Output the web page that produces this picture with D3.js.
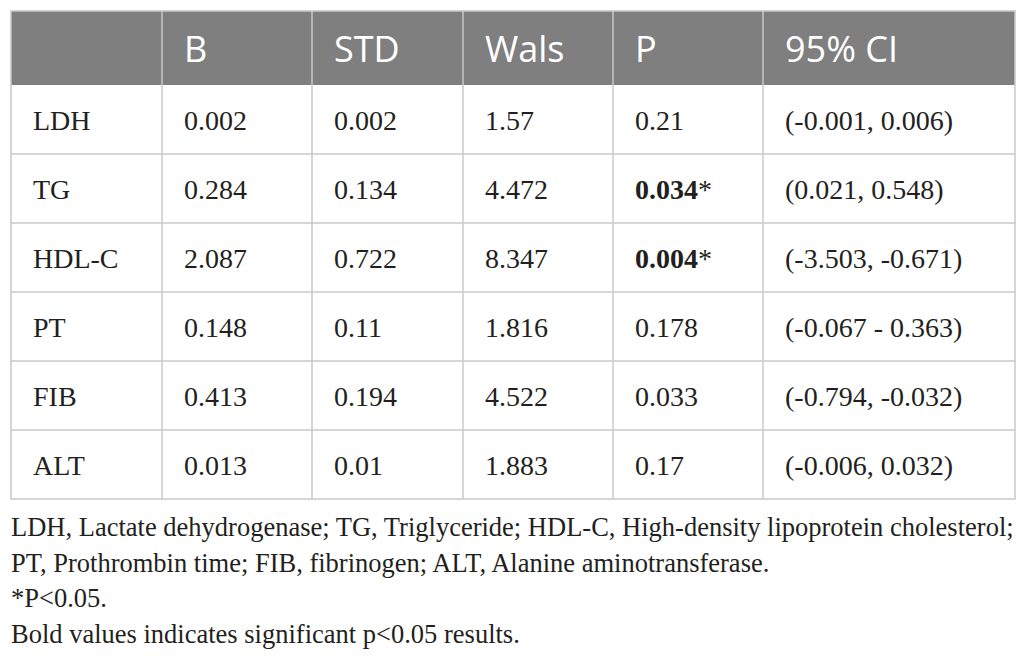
<!DOCTYPE html>
<html>
<head>
<meta charset="utf-8">
<script src="https://cdn.jsdelivr.net/npm/d3@7"></script>
<style>
  body { margin: 0; background: #fff; }
  svg { display: block; }
</style>
</head>
<body>
<svg id="chart"></svg>
<script>
// table content
const colHeaders = ['', 'B', 'STD', 'Wals', 'P', '95% CI'];
const rowLabels = ['LDH', 'TG', 'HDL-C', 'PT', 'FIB', 'ALT'];
const bValues = ['0.002', '0.284', '2.087', '0.148', '0.413', '0.013'];
const stdValues = ['0.002', '0.134', '0.722', '0.11', '0.194', '0.01'];
const walsValues = ['1.57', '4.472', '8.347', '1.816', '4.522', '1.883'];
const pValues = ['0.21', '0.034', '0.004', '0.178', '0.033', '0.17'];
const pSignificant = [false, true, true, false, false, false];
const ciValues = ['(-0.001, 0.006)', '(0.021, 0.548)', '(-3.503, -0.671)', '(-0.067 - 0.363)', '(-0.794, -0.032)', '(-0.006, 0.032)'];
const footnotes = [
  'LDH, Lactate dehydrogenase; TG, Triglyceride; HDL-C, High-density lipoprotein cholesterol;',
  'PT, Prothrombin time; FIB, fibrinogen; ALT, Alanine aminotransferase.',
  '*P<0.05.',
  'Bold values indicates significant p<0.05 results.'
];

const width = 1026, height = 659;
const tableLeft = 11, tableTop = 11, headerBottom = 85, tableBottom = 499;
const colWidths = [151, 150, 151, 150, 150, 252];
const colEdges = [tableLeft].concat(Array.from(d3.cumsum(colWidths), d => tableLeft + d));
const tableRight = colEdges[colEdges.length - 1];
const pad = 22;
const gridColor = '#c8c8c8';
const textColor = '#231f20';
const serif = '"Liberation Serif", "Times New Roman", serif';

const svg = d3.select('#chart')
  .attr('width', width)
  .attr('height', height);

// rows share the body height equally
const yRow = d3.scaleBand()
  .domain(rowLabels)
  .range([headerBottom, tableBottom]);

// header band
svg.append('rect')
  .attr('x', tableLeft)
  .attr('y', tableTop)
  .attr('width', tableRight - tableLeft)
  .attr('height', headerBottom - tableTop)
  .attr('fill', '#7f7f7f');

svg.append('g')
  .selectAll('text')
  .data(colHeaders)
  .join('text')
    .attr('x', (d, i) => colEdges[i] + pad)
    .attr('y', 62)
    .attr('fill', '#fff')
    .style('font-family', '"Open Sans", sans-serif')
    .style('font-size', '36px')
    .text(d => d);

// body cells
const rows = rowLabels.map((label, i) => ({
  label: label,
  cells: [label, bValues[i], stdValues[i], walsValues[i], pValues[i], ciValues[i]],
  sig: pSignificant[i]
}));

const rowG = svg.append('g')
  .selectAll('g')
  .data(rows)
  .join('g')
    .attr('transform', d => `translate(0,${yRow(d.label) + yRow.bandwidth() / 2 + 10})`);

rowG.selectAll('text')
  .data(d => d.cells.map((v, j) => ({value: v, col: j, sig: d.sig && j === 4})))
  .join('text')
    .attr('x', d => colEdges[d.col] + pad)
    .attr('fill', textColor)
    .style('font-family', serif)
    .style('font-size', '28px')
    .each(function(d) {
      const t = d3.select(this);
      if (d.sig) {
        t.append('tspan').style('font-weight', 'bold').text(d.value);
        t.append('tspan').text('*');
      } else {
        t.text(d.value);
      }
    });

// grid lines
const grid = svg.append('g')
  .attr('stroke', gridColor)
  .attr('stroke-width', 1.5)
  .attr('fill', 'none');

grid.selectAll('line.h')
  .data(rowLabels.slice(1))
  .join('line')
    .attr('class', 'h')
    .attr('x1', tableLeft)
    .attr('x2', tableRight)
    .attr('y1', d => yRow(d))
    .attr('y2', d => yRow(d));

grid.selectAll('line.vb')
  .data(colEdges.slice(1, -1))
  .join('line')
    .attr('class', 'vb')
    .attr('x1', d => d)
    .attr('x2', d => d)
    .attr('y1', tableTop)
    .attr('y2', tableBottom);

grid.append('rect')
  .attr('x', tableLeft)
  .attr('y', tableTop)
  .attr('width', tableRight - tableLeft)
  .attr('height', tableBottom - tableTop);

// footnotes under the table
svg.append('g')
  .selectAll('text')
  .data(footnotes)
  .join('text')
    .attr('x', tableLeft)
    .attr('y', (d, i) => 536 + i * 35.5)
    .attr('fill', textColor)
    .style('font-family', serif)
    .style('font-size', '26.5px')
    .text(d => d);
</script>
</body>
</html>
